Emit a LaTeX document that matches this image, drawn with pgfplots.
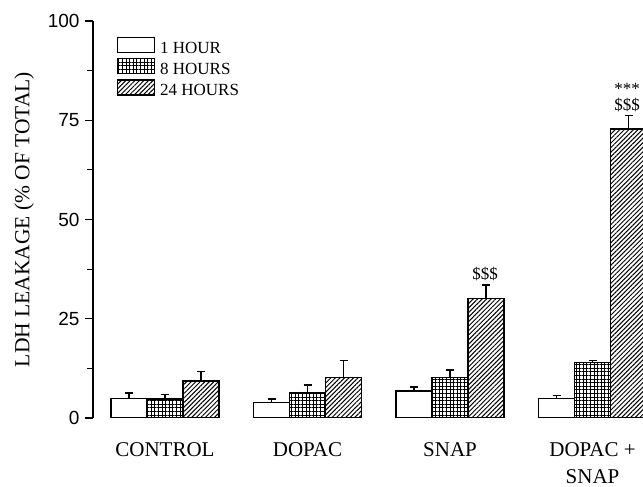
\documentclass[border=0pt]{standalone}
\usepackage{pgfplots}
\pgfplotsset{compat=1.18}
\usetikzlibrary{patterns.meta}
\usepackage{fontspec}
\setmainfont{Liberation Serif}
\newfontfamily\arial{Liberation Sans}

\pgfplotsset{
  mylegend/.style={legend image code/.code={\draw[##1,line width=1.2pt] (0pt,-1.9pt) rectangle (37pt,13.1pt);}},
}

\begin{document}
\begin{tikzpicture}
\useasboundingbox (0,0) rectangle (643pt,487pt);
\begin{axis}[
  at={(93pt,69pt)}, anchor=south west,
  scale only axis, width=550pt, height=397pt,
  xmin=-0.505, xmax=3.354, ymin=0, ymax=100,
  axis lines*=left,
  axis line style={-, line width=1.3pt},
  x axis line style={draw=none},
  xtick={0,1,2,3},
  xticklabels={CONTROL, DOPAC, SNAP, {DOPAC +\\SNAP}},
  xtick style={draw=none},
  xticklabel style={align=center, font=\fontsize{21}{27}\selectfont, yshift=-13pt},
  ytick={0,25,50,75,100},
  minor ytick={12.5,37.5,62.5,87.5},
  tick align=outside,
  major tick length=8pt, minor tick length=6pt,
  ytick style={line width=1.2pt, black},
  minor y tick style={line width=1.2pt, black},
  /pgf/number format/assume math mode=true,
  yticklabel={\arial\fontsize{19}{19}\selectfont\pgfmathprintnumber{\tick}},
  yticklabel style={xshift=-2pt},
  ylabel={\fontsize{21.5}{21.5}\selectfont LDH LEAKAGE (\% OF TOTAL)},
  ylabel style={at={(axis description cs:-0.125,0.5)}, anchor=center},
  ybar, bar width=36pt,
  legend style={at={(axis description cs:0.0436,0.9597)}, anchor=north west, draw=none, fill=none,
    inner sep=0pt, outer sep=0pt, row sep=2pt, font=\fontsize{17}{17}\selectfont,
    nodes={inner sep=0pt, text height=11pt, text depth=0pt},
    /tikz/every even column/.append style={column sep=0pt}},
  legend cell align=left,
  /tikz/every odd column/.append style={column sep=5pt},
  error bars/y dir=plus, error bars/y explicit,
  error bars/error bar style={line width=1.2pt, black, solid},
  error bars/error mark options={line width=1.2pt, black, mark size=4pt, rotate=90},
]
\addplot[mylegend, draw=black, line width=1.2pt, fill=white, bar shift=-36pt]
  coordinates {(0,5.0) +- (0,1.3) (1,4.0) +- (0,0.8) (2,6.8) +- (0,1.0) (3,5.0) +- (0,0.6)};
\addplot[mylegend, draw=black, line width=1.2pt, pattern={Hatch[angle=0,distance=3.6pt,line width=0.8pt]}, bar shift=0pt]
  coordinates {(0,4.8) +- (0,1.2) (1,6.3) +- (0,2.0) (2,10.1) +- (0,2.0) (3,13.9) +- (0,0.5)};
\addplot[mylegend, draw=black, line width=1.2pt, pattern={Lines[angle=45,distance=3.2pt,line width=1pt]}, bar shift=36pt]
  coordinates {(0,9.3) +- (0,2.5) (1,10.1) +- (0,4.3) (2,30.0) +- (0,3.5) (3,72.8) +- (0,3.3)};
\legend{\raisebox{3pt}{1 HOUR}, \raisebox{3pt}{8 HOURS}, \raisebox{3pt}{24 HOURS}}
\node[anchor=base, font=\fontsize{17}{17}\selectfont, inner sep=0pt] at (axis cs:2.246,34.8) {\$\$\$};
\node[anchor=base, font=\fontsize{17}{17}\selectfont, inner sep=0pt] at (axis cs:3.242,77.4) {\$\$\$};
\node[anchor=base, font=\fontsize{17}{17}\selectfont, inner sep=0pt] at (axis cs:3.242,81.6) {***};
\end{axis}
\end{tikzpicture}
\end{document}
